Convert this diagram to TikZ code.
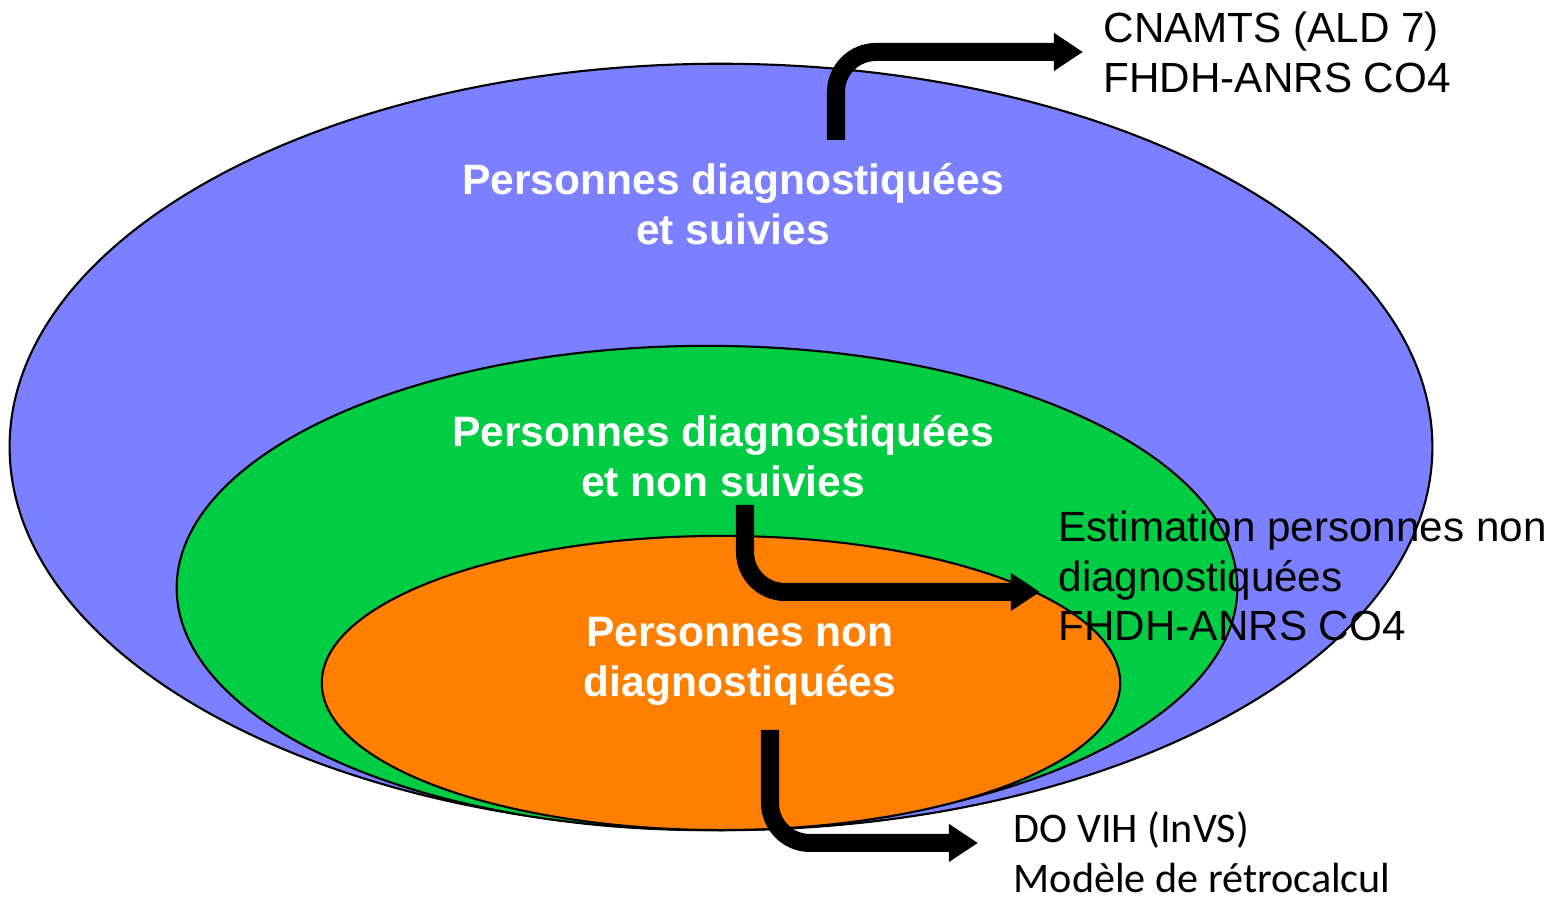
\documentclass[tikz,border=0pt]{standalone}
\usepackage{fontspec}
\setmainfont{Liberation Sans}
\newfontfamily\calibri{Carlito}
\usetikzlibrary{arrows.meta}
\definecolor{popblue}{RGB}{122,128,255}
\definecolor{popgreen}{RGB}{0,204,68}
\definecolor{poporange}{RGB}{255,128,0}
\tikzset{
    zone/.style={draw=black,line width=0.6pt},
    zonelabel/.style={text=white,font=\fontsize{12.1}{14.2}\selectfont\bfseries,align=center,inner sep=0pt},
    source/.style={font=\fontsize{12}{14.2}\selectfont,align=left,anchor=west,inner sep=0pt},
    bigarrow/.style={line width=0.18cm,rounded corners=0.4cm,-{Triangle[length=0.29cm,width=0.36cm]}}
}
\begin{document}
\begin{tikzpicture}[x=0.01cm,y=0.01cm]
    \useasboundingbox (0,0) rectangle (1568,898);
    \filldraw[zone,fill=popblue] (721,451) ellipse (7.11cm and 3.83cm);
    \filldraw[zone,fill=popgreen] (707,310) ellipse (5.30cm and 2.42cm);
    \filldraw[zone,fill=poporange] (721,215) ellipse (3.99cm and 1.47cm);
    \node[zonelabel] (followed) at (733,694) {Personnes diagnostiquées\\et suivies};
    \node[zonelabel] (unfollowed) at (723,442) {Personnes diagnostiquées\\et non suivies};
    \node[zonelabel] (undiagnosed) at (740,237) {Personnes non\\diagnostiquées};
    \node[source] (cnamts) at (1103,846) {CNAMTS (ALD 7)\\FHDH-ANRS CO4};
    \node[source] (estimation) at (1058,322) {Estimation personnes non\\diagnostiquées\\FHDH-ANRS CO4};
    \node[source,font=\calibri\fontsize{12}{14.2}\selectfont] (dovih) at (1013,46) {DO VIH (InVS)\\Modèle de rétrocalcul};
    \coordinate (from1) at (836,758);
    \coordinate (from2) at (745,393);
    \coordinate (to2) at (1040,306);
    \coordinate (from3) at (770,168);
    \coordinate (to3) at (978,55);
    \draw[bigarrow] (from1) |- ([xshift=-0.2cm]cnamts.west);
    \draw[bigarrow] (from2) |- (to2);
    \draw[bigarrow] (from3) |- (to3);
\end{tikzpicture}
\end{document}
